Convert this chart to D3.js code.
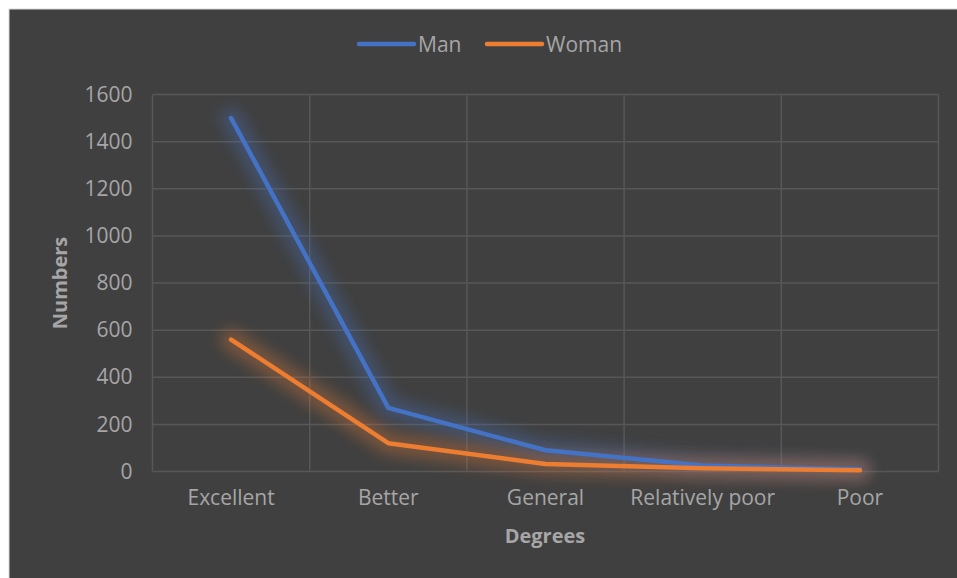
<!DOCTYPE html>
<html><head><meta charset="utf-8">
<script src="https://cdn.jsdelivr.net/npm/d3@7"></script>
<style>html,body{margin:0;padding:0;background:#fff;overflow:hidden}</style>
</head><body>
<svg id="c" width="957" height="578"></svg>
<script>
const categories = ["Excellent","Better","General","Relatively poor","Poor"];
const manValues = [1500, 270, 90, 25, 10];
const womanValues = [560, 120, 32, 14, 5];
const yTicks = [0,200,400,600,800,1000,1200,1400,1600];
const seriesNames = ["Man","Woman"];
const seriesColors = ["#4472c4","#ed7d31"];

(function(){
const svg = d3.select("#c");
const W = 957, H = 578;
const font = "'Open Sans','Noto Sans',sans-serif";
const textCol = "#a6a6a6";

svg.append("rect").attr("x",9).attr("y",9).attr("width",W+20).attr("height",H+20)
  .attr("fill","#404040").attr("stroke","#d9d9d9").attr("stroke-width",1);

const defs = svg.append("defs");
const f = defs.append("filter").attr("id","glow").attr("filterUnits","userSpaceOnUse")
  .attr("x",0).attr("y",0).attr("width",W).attr("height",H);
f.append("feGaussianBlur").attr("in","SourceGraphic").attr("stdDeviation",7);

const pLeft = 152.5, pRight = 938.5, pTop = 94.5, pBottom = 471.5;
const x = d3.scaleBand().domain(categories).range([pLeft,pRight]).paddingInner(0).paddingOuter(0);
const y = d3.scaleLinear().domain([0,1600]).range([pBottom,pTop]);

// grid
const g = svg.append("g");
g.selectAll(".h").data(yTicks).join("line")
  .attr("x1",pLeft).attr("x2",pRight).attr("y1",d=>y(d)).attr("y2",d=>y(d))
  .attr("stroke","#575757").attr("stroke-width",1.5);
const bounds = categories.map(c=>x(c)).concat([pRight]);
g.selectAll(".v").data(bounds).join("line")
  .attr("x1",d=>d).attr("x2",d=>d).attr("y1",pTop).attr("y2",pBottom)
  .attr("stroke","#575757").attr("stroke-width",1.5);

// y axis
const yAxis = d3.axisLeft(y).tickValues(yTicks).tickFormat(d3.format("d")).tickSize(0).tickPadding(20);
const ya = svg.append("g").attr("transform",`translate(${pLeft},0)`).call(yAxis);
ya.select(".domain").remove();
ya.selectAll("text").attr("fill",textCol).style("font-family",font).style("font-size","21px");

// x axis
const xAxis = d3.axisBottom(x).tickSize(0).tickPadding(19);
const xa = svg.append("g").attr("transform",`translate(0,${pBottom})`).call(xAxis);
xa.select(".domain").remove();
xa.selectAll("text").attr("fill",textCol).style("font-family",font).style("font-size","21px");

// lines
const line = d3.line().x((d,i)=>x(categories[i])+x.bandwidth()/2).y(d=>y(d));
[manValues, womanValues].forEach((vals,k)=>{
  svg.append("path").datum(vals).attr("d",line).attr("fill","none")
    .attr("stroke",seriesColors[k]).attr("stroke-width",22).attr("stroke-opacity",0.32)
    .attr("stroke-linejoin","round").attr("stroke-linecap","round")
    .attr("filter","url(#glow)");
});
[manValues, womanValues].forEach((vals,k)=>{
  svg.append("path").datum(vals).attr("d",line).attr("fill","none")
    .attr("stroke",seriesColors[k]).attr("stroke-width",4.5)
    .attr("stroke-linejoin","round").attr("stroke-linecap","round");
});

// axis titles
svg.append("text").attr("transform","translate(67,283) rotate(-90)")
  .attr("text-anchor","middle").attr("fill",textCol)
  .style("font-family",font).style("font-size","20px").style("font-weight","bold").text("Numbers");
svg.append("text").attr("x",545).attr("y",543).attr("text-anchor","middle").attr("fill",textCol)
  .style("font-family",font).style("font-size","20px").style("font-weight","bold").text("Degrees");

// legend
const legX = [359, 487];
seriesNames.forEach((n,k)=>{
  svg.append("line").attr("x1",legX[k]).attr("x2",legX[k]+55).attr("y1",44).attr("y2",44)
    .attr("stroke",seriesColors[k]).attr("stroke-width",4.5).attr("stroke-linecap","round");
  svg.append("text").attr("x",legX[k]+59).attr("y",52).attr("fill",textCol)
    .style("font-family",font).style("font-size","21px").text(n);
});
})();
</script>
</body></html>
